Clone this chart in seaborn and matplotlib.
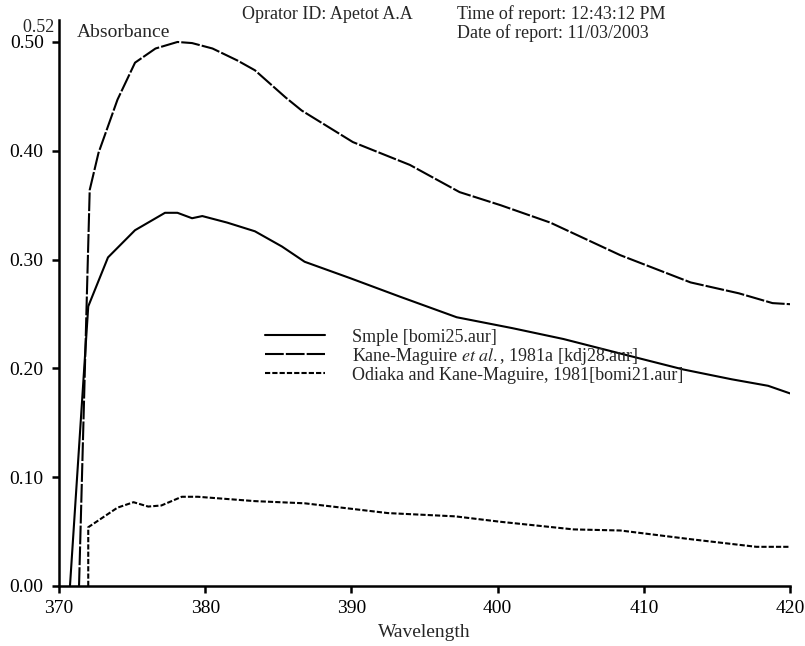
import pandas as pd
import seaborn as sns
import matplotlib
matplotlib.use("Agg")
import matplotlib.pyplot as plt

wl_sample = [370.75, 372.0, 373.35, 375.2, 377.25, 378.1, 379.1, 379.8, 381.5, 383.4,
             385.25, 386.8, 389.9, 393.3, 397.2, 401.0, 404.5, 408.0, 412.7, 416.0,
             418.5, 420.0]
abs_sample = [0.0, 0.257, 0.302, 0.327, 0.343, 0.343, 0.338, 0.340, 0.334, 0.326,
              0.312, 0.298, 0.283, 0.266, 0.247, 0.237, 0.227, 0.215, 0.199, 0.190,
              0.184, 0.177]

wl_kane = [371.37, 372.1, 372.7, 374.0, 375.2, 376.6, 378.1, 379.1, 380.5, 382.2,
           383.4, 385.5, 386.6, 390.1, 394.0, 397.4, 400.2, 403.6, 408.4, 413.2,
           416.5, 418.8, 420.0]
abs_kane = [0.0, 0.364, 0.398, 0.447, 0.481, 0.494, 0.500, 0.499, 0.494, 0.483,
            0.474, 0.449, 0.437, 0.408, 0.387, 0.362, 0.350, 0.334, 0.304, 0.279,
            0.269, 0.260, 0.259]

wl_odiaka = [372.0, 372.0, 374.0, 375.1, 376.1, 377.0, 378.4, 379.5, 383.4, 386.8,
             392.5, 397.1, 400.2, 405.2, 408.4, 413.2, 417.7, 420.0]
abs_odiaka = [0.0, 0.054, 0.072, 0.077, 0.073, 0.074, 0.082, 0.082, 0.078, 0.076,
              0.067, 0.064, 0.059, 0.052, 0.051, 0.043, 0.036, 0.036]

labels = ["Smple [bomi25.aur]",
          r"Kane-Maguire $\mathit{et\ al.}$, 1981a [kdj28.aur]",
          "Odiaka and Kane-Maguire, 1981[bomi21.aur]"]

x_ticks = [370, 380, 390, 400, 410, 420]
y_ticks = [0.0, 0.1, 0.2, 0.3, 0.4, 0.5]

sns.set_style("ticks")
plt.rcParams["font.family"] = ["Liberation Serif", "DejaVu Serif"]
plt.rcParams["mathtext.fontset"] = "stix"

fig = plt.figure(figsize=(8.05, 6.46), dpi=100)
ax = fig.add_axes([0.0733, 0.0929, 0.9081, 0.8758])

series = [
    (wl_sample, abs_sample, "-"),
    (wl_kane, abs_kane, (0, (9, 1))),
    (wl_odiaka, abs_odiaka, (0, (2.5, 1))),
]
for (wl, ab, ls), lab in zip(series, labels):
    df = pd.DataFrame({"Wavelength": wl, "Absorbance": ab})
    sns.lineplot(data=df, x="Wavelength", y="Absorbance", ax=ax, color="black",
                 linewidth=1.5, linestyle=ls, estimator=None, sort=False, label=lab)

ax.set_xlim(370, 420)
ax.set_ylim(0, 0.52)
ax.set_xticks(x_ticks)
ax.set_yticks(y_ticks)
ax.set_yticklabels([f"{v:.2f}" for v in y_ticks])
ax.tick_params(axis="both", direction="out", length=5, width=1.8, labelsize=14,
               colors="black")
ax.tick_params(axis="y", pad=6)
ax.tick_params(axis="x", pad=5)
for side in ["top", "right"]:
    ax.spines[side].set_visible(False)
for side in ["left", "bottom"]:
    ax.spines[side].set_linewidth(1.8)
    ax.spines[side].set_color("black")

ax.set_xlabel("Wavelength", fontsize=14, labelpad=5)
ax.set_ylabel("")
ax.text(0.0, 1.003, "0.52 ", transform=ax.transAxes, ha="right", va="top", fontsize=13)
ax.text(0.025, 0.979, "Absorbance", transform=ax.transAxes, ha="left", va="center",
        fontsize=14)

fig.text(0.3006, 0.978, "Oprator ID: Apetot A.A", ha="left", va="center", fontsize=13)
fig.text(0.5677, 0.978, "Time of report: 12:43:12 PM", ha="left", va="center", fontsize=13)
fig.text(0.5677, 0.949, "Date of report: 11/03/2003", ha="left", va="center", fontsize=13)

ax.legend(loc="upper left", bbox_to_anchor=(0.282, 0.455), frameon=False, fontsize=13,
          handlelength=3.3, handletextpad=1.5, labelspacing=0.0, borderpad=0,
          borderaxespad=0)

fig.savefig("out.png", dpi=100)
